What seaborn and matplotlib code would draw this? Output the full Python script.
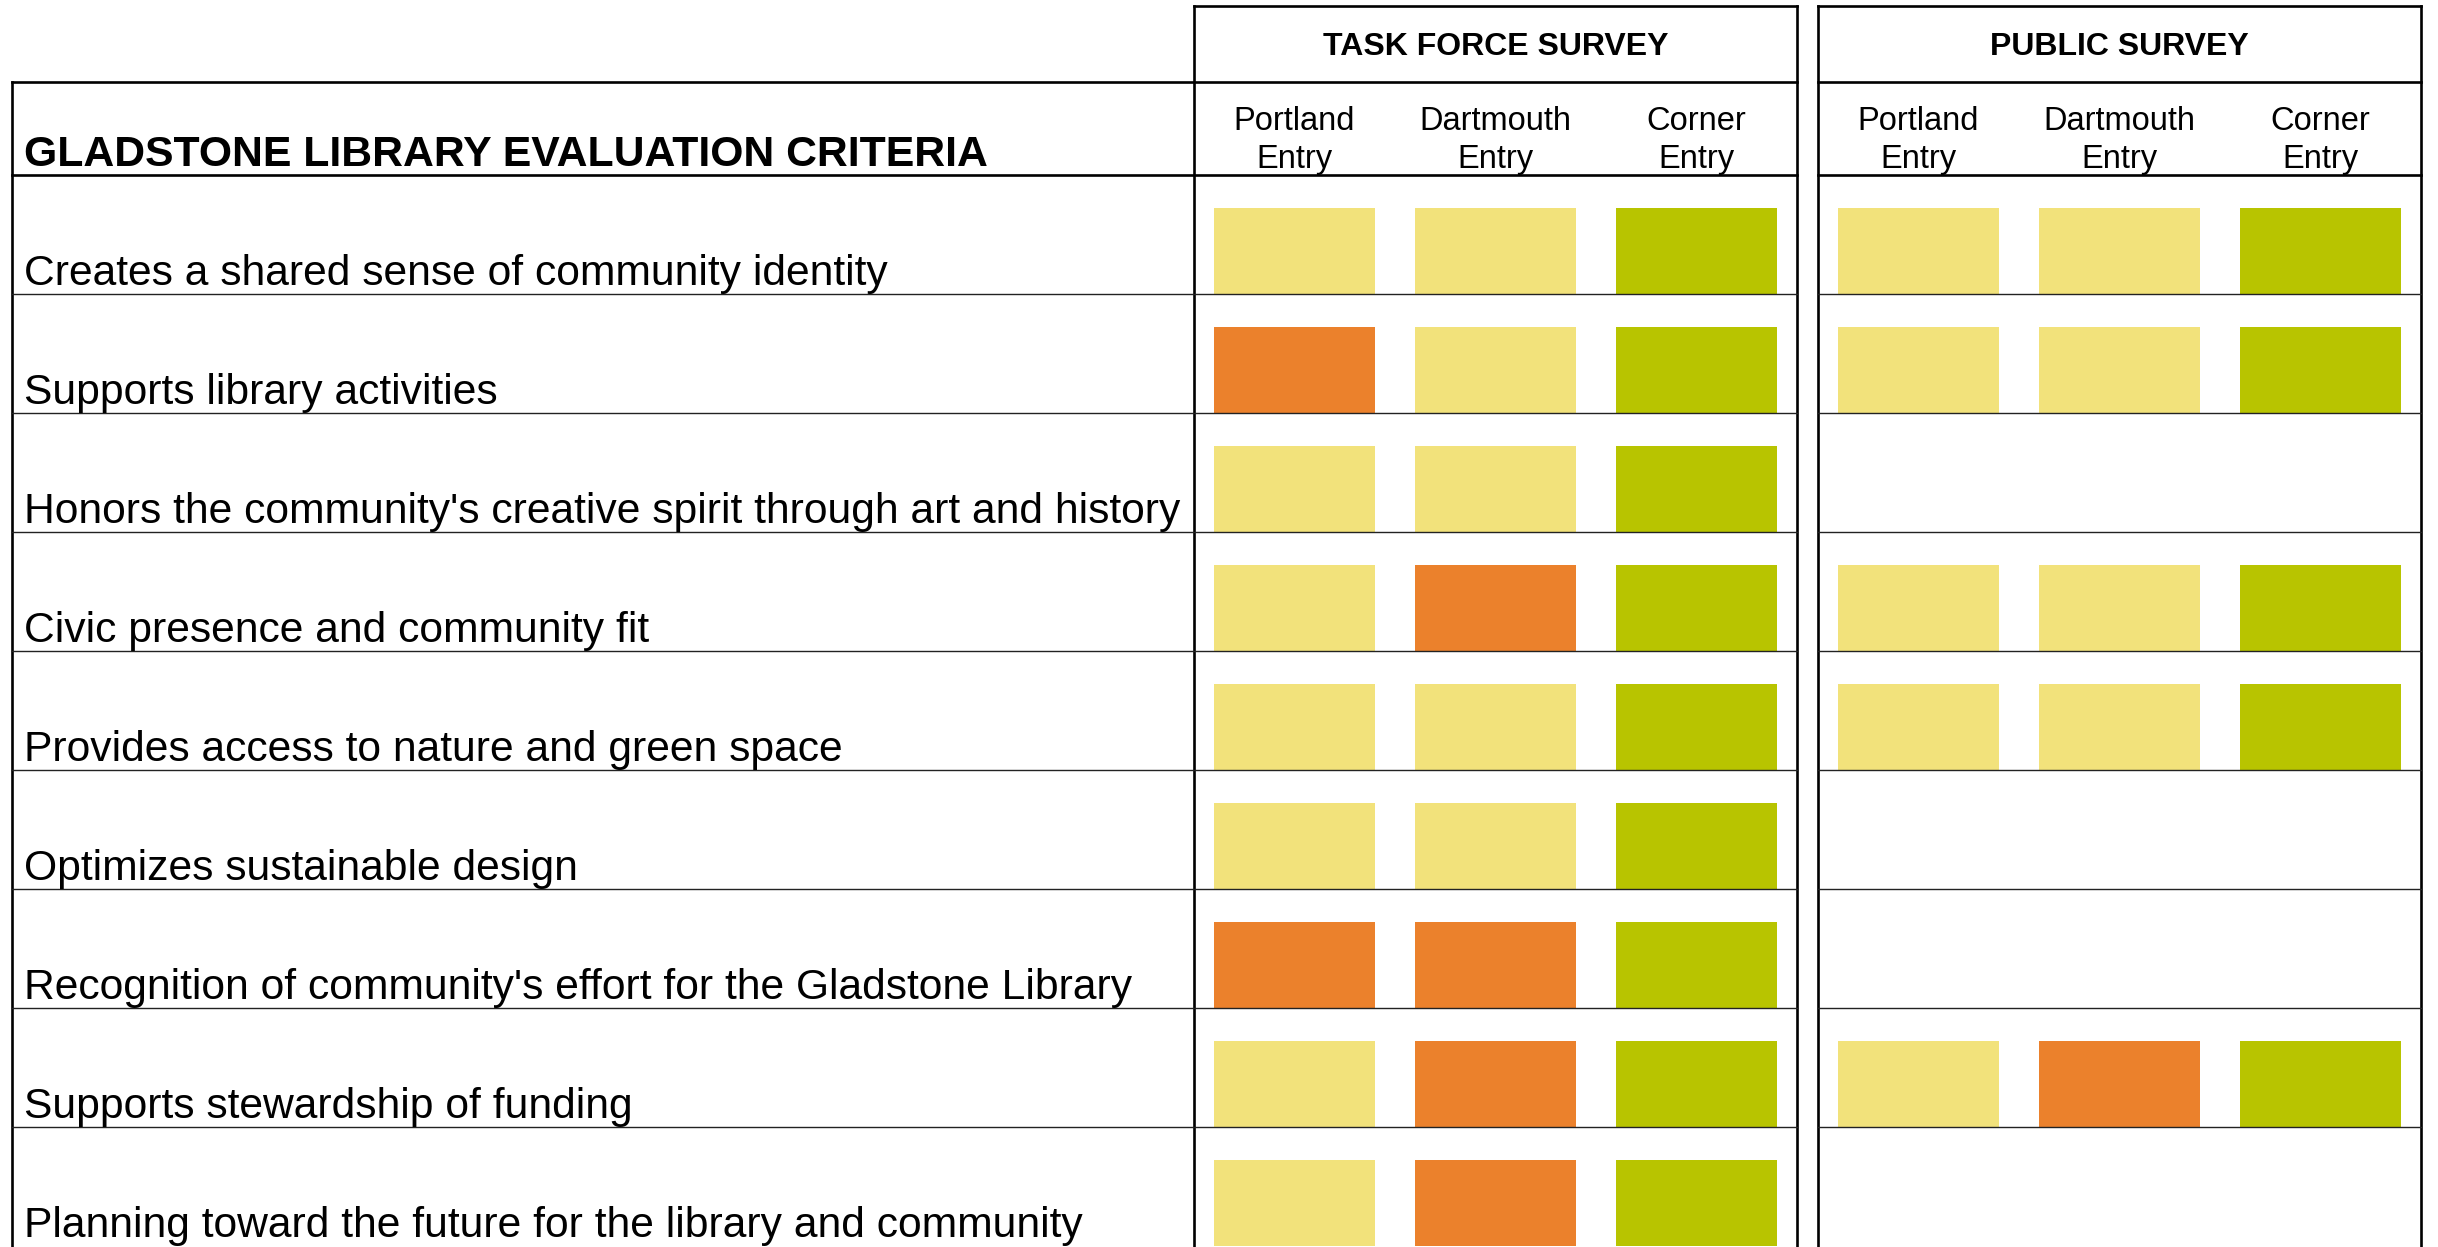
import matplotlib
matplotlib.use("Agg")
import matplotlib.pyplot as plt
import pandas as pd
import seaborn as sns

plt.rcParams['font.family'] = ['Liberation Sans', 'DejaVu Sans']

criteria = [
    "Creates a shared sense of community identity",
    "Supports library activities",
    "Honors the community's creative spirit through art and history",
    "Civic presence and community fit",
    "Provides access to nature and green space",
    "Optimizes sustainable design",
    "Recognition of community's effort for the Gladstone Library",
    "Supports stewardship of funding",
    "Planning toward the future for the library and community",
]
entries = ["Portland\nEntry", "Dartmouth\nEntry", "Corner\nEntry"]
surveys = ["TASK FORCE SURVEY", "PUBLIC SURVEY"]

# L = less favourable (orange), M = neutral (yellow), H = most favourable (green)
task_force = [
    ["M", "M", "H"],
    ["L", "M", "H"],
    ["M", "M", "H"],
    ["M", "L", "H"],
    ["M", "M", "H"],
    ["M", "M", "H"],
    ["L", "L", "H"],
    ["M", "L", "H"],
    ["M", "L", "H"],
]
public = [
    ["M", "M", "H"],
    ["M", "M", "H"],
    None,
    ["M", "M", "H"],
    ["M", "M", "H"],
    None,
    None,
    ["M", "L", "H"],
    None,
]
palette = {"L": "#EB812C", "M": "#F2E27B", "H": "#B8C400"}

# layout in pixels
W, H = 2438, 1247
left_x = 12
box_x = [(1194, 1797), (1818, 2421)]
top_y, head_y, body_y = 6, 82, 175
row_h = 119
bar_h = 86

fig = plt.figure(figsize=(W / 100, H / 100), dpi=100)

for s, rows in enumerate([task_force, public]):
    x0, x1 = box_x[s]
    for r, ratings in enumerate(rows):
        if ratings is None:
            continue
        df = pd.DataFrame({"entry": entries, "rating": ratings, "score": [1, 1, 1]})
        yb = body_y + (r + 1) * row_h
        ax = fig.add_axes([x0 / W, 1 - yb / H, (x1 - x0) / W, row_h / H])
        sns.barplot(data=df, x="entry", y="score", hue="rating", palette=palette,
                    order=entries, width=0.8, dodge=False, legend=False,
                    saturation=1, ax=ax)
        ax.set_xlim(-0.5, 2.5)
        ax.set_ylim(0, row_h / bar_h)
        ax.axis("off")

# grid lines and text on an overlay
ov = fig.add_axes([0, 0, 1, 1], zorder=10)
ov.set_xlim(0, W)
ov.set_ylim(H, 0)
ov.axis("off")
ov.patch.set_alpha(0)

thick, thin = 1.9, 1.0
bottom = H
# verticals
ov.plot([left_x, left_x], [head_y, bottom], color="black", lw=thick)
for x0, x1 in box_x:
    ov.plot([x0, x0], [top_y, bottom], color="black", lw=thick)
    ov.plot([x1, x1], [top_y, bottom], color="black", lw=thick)
# horizontals
ov.plot([box_x[0][0], box_x[0][1]], [top_y, top_y], color="black", lw=thick)
ov.plot([box_x[1][0], box_x[1][1]], [top_y, top_y], color="black", lw=thick)
for y in [head_y, body_y]:
    ov.plot([left_x, box_x[0][1]], [y, y], color="black", lw=thick)
    ov.plot([box_x[1][0], box_x[1][1]], [y, y], color="black", lw=thick)
for r in range(1, len(criteria)):
    y = body_y + r * row_h
    ov.plot([left_x, box_x[0][1]], [y, y], color="#222222", lw=thin)
    ov.plot([box_x[1][0], box_x[1][1]], [y, y], color="#222222", lw=thin)

ov.text(24, 166, "GLADSTONE LIBRARY EVALUATION CRITERIA", fontsize=30.8,
        fontweight="bold", ha="left", va="baseline")
for r, label in enumerate(criteria):
    ov.text(24, body_y + (r + 1) * row_h - 9, label, fontsize=30.7,
            ha="left", va="baseline")

for s, name in enumerate(surveys):
    x0, x1 = box_x[s]
    ov.text((x0 + x1) / 2, 55, name, fontsize=23, fontweight="bold",
            ha="center", va="baseline")
    cw = (x1 - x0) / len(entries)
    for c, entry in enumerate(entries):
        cx = x0 + cw * (c + 0.5)
        l1, l2 = entry.split("\n")
        ov.text(cx, 130, l1, fontsize=23.5, ha="center", va="baseline")
        ov.text(cx, 168, l2, fontsize=23.5, ha="center", va="baseline")

fig.savefig("out.png", dpi=100, facecolor="white")
